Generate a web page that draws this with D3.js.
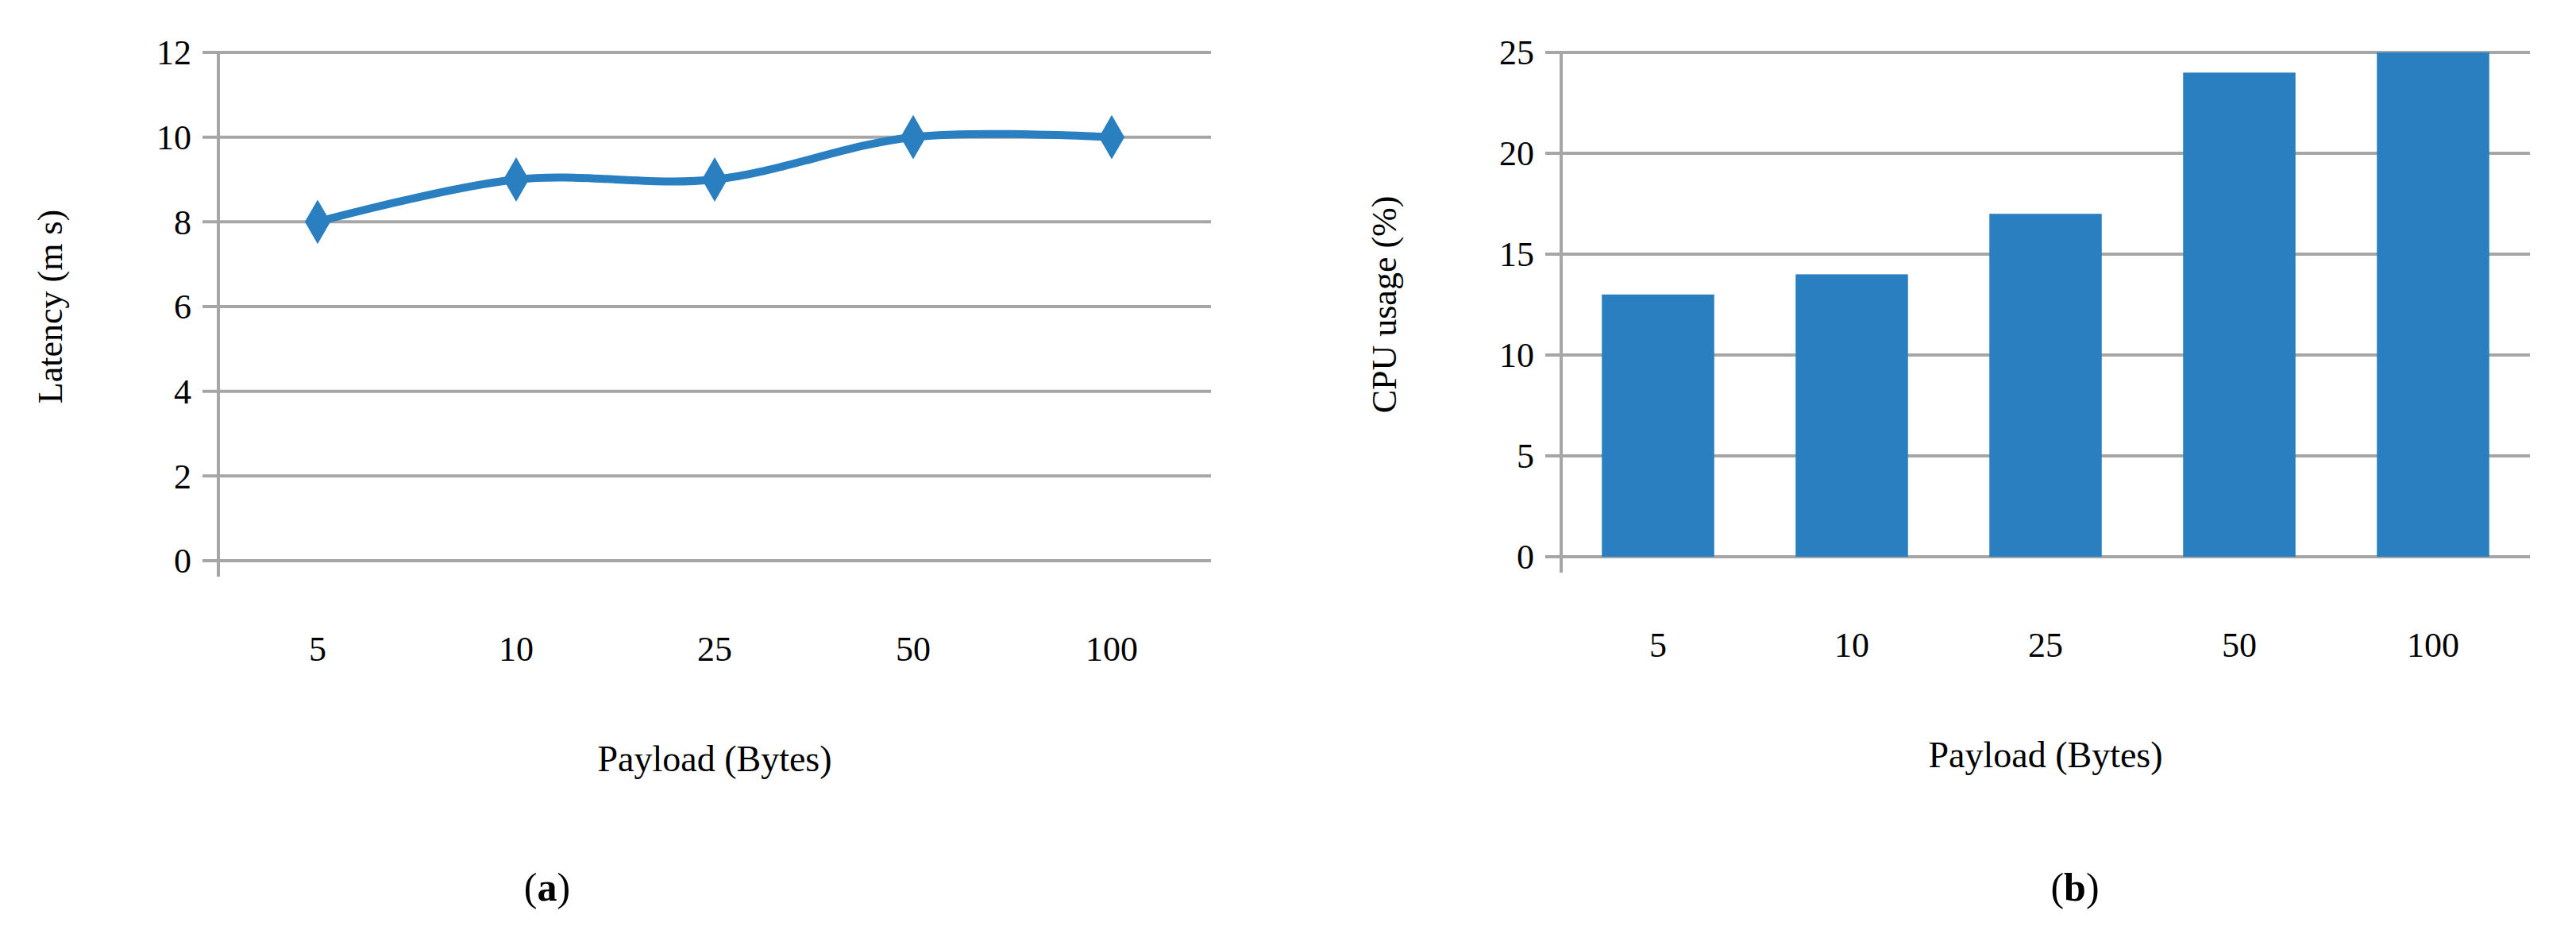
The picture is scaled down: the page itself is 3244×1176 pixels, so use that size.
<!DOCTYPE html>
<html><head><meta charset="utf-8">
<script src="https://cdnjs.cloudflare.com/ajax/libs/d3/7.8.5/d3.min.js"></script>
<style>body{margin:0;background:#fff}text{font-family:"Liberation Serif","Times New Roman",serif}</style>
</head><body>
<svg id="c" width="3244" height="1176"></svg>
<script>
const categories = ["5","10","25","50","100"];
const latency = [8,9,9,10,10];
const cpu = [13,14,17,24,25];
const latencyTicks = [0,2,4,6,8,10,12];
const cpuTicks = [0,5,10,15,20,25];
const blue = "#2a7fc0", grid = "#a6a6a6";
const svg = d3.select("#c");

function panel(o){
  const g = svg.append("g");
  const x = d3.scaleBand().domain(categories).range([o.left,o.right]);
  const y = d3.scaleLinear().domain([0,o.max]).range([o.bottom,o.top]);
  // grid
  g.selectAll(".gl").data(o.ticks).join("line")
    .attr("x1",o.left-20).attr("x2",o.right).attr("y1",d=>y(d)).attr("y2",d=>y(d))
    .attr("stroke",grid).attr("stroke-width",4);
  g.append("line").attr("x1",o.left).attr("x2",o.left).attr("y1",o.top).attr("y2",o.bottom+20)
    .attr("stroke",grid).attr("stroke-width",4);
  g.selectAll(".yt").data(o.ticks).join("text")
    .attr("x",o.left-34).attr("y",d=>y(d)).attr("dy","0.35em").attr("text-anchor","end")
    .attr("font-size",44).text(d=>d);
  g.selectAll(".xt").data(categories).join("text")
    .attr("x",d=>x(d)+x.bandwidth()/2).attr("y",o.bottom+126).attr("text-anchor","middle")
    .attr("font-size",44).text(d=>d);
  g.append("text").attr("x",(o.left+o.right)/2).attr("y",o.bottom+265).attr("text-anchor","middle")
    .attr("font-size",46).text("Payload (Bytes)");
  g.append("text").attr("transform",`translate(${o.ylx},${(o.top+o.bottom)/2}) rotate(-90)`)
    .attr("text-anchor","middle").attr("font-size",44).text(o.ylabel);
  g.append("text").attr("x",o.capx).attr("y",1134).attr("text-anchor","middle").attr("font-size",50)
    .html(`(<tspan font-weight="bold">${o.cap}</tspan>)`);
  return {g,x,y};
}

const a = panel({left:275,right:1525,top:66,bottom:706,max:12,ticks:latencyTicks,ylabel:"Latency (m s)",ylx:78,cap:"a",capx:689});
a.g.append("path").datum(latency)
  .attr("d",d3.line().x((d,i)=>a.x(categories[i])+a.x.bandwidth()/2).y(d=>a.y(d)).curve(d3.curveCatmullRom.alpha(0.5)))
  .attr("fill","none").attr("stroke",blue).attr("stroke-width",10);
a.g.selectAll(".m").data(latency).join("path")
  .attr("transform",(d,i)=>`translate(${a.x(categories[i])+a.x.bandwidth()/2},${a.y(d)})`)
  .attr("d",d3.symbol(d3.symbolDiamond,900)).attr("fill",blue);

const b = panel({left:1966,right:3186,top:66,bottom:701,max:25,ticks:cpuTicks,ylabel:"CPU usage (%)",ylx:1758,cap:"b",capx:2613});
const bw = b.x.bandwidth()*0.58;
b.g.selectAll(".bar").data(cpu).join("rect")
  .attr("x",(d,i)=>b.x(categories[i])+(b.x.bandwidth()-bw)/2).attr("width",bw)
  .attr("y",d=>b.y(d)).attr("height",d=>b.y(0)-b.y(d)).attr("fill",blue);
</script></body></html>
